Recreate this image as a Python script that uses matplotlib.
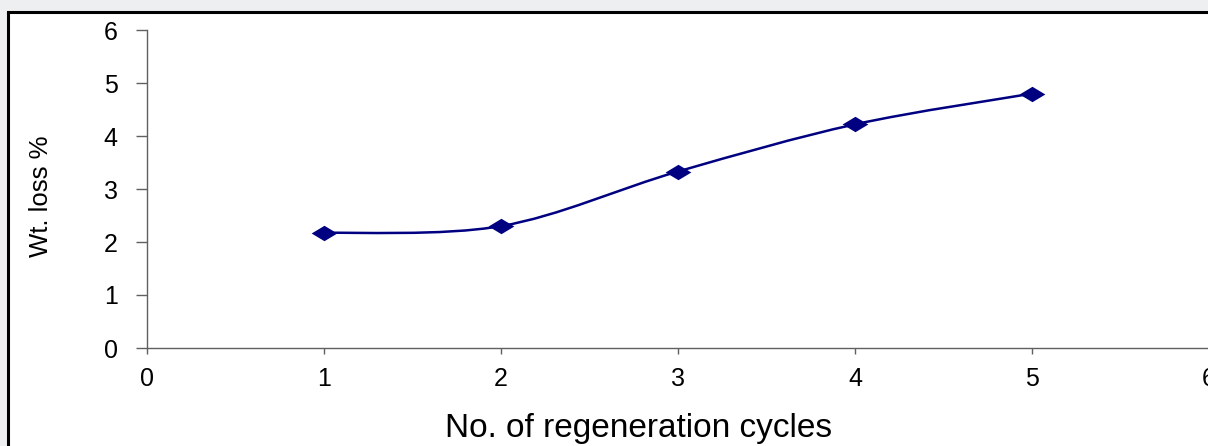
import matplotlib
matplotlib.use("Agg")
import matplotlib.pyplot as plt
from matplotlib.path import Path
from matplotlib.patches import PathPatch, Rectangle
import numpy as np

cycles = [1, 2, 3, 4, 5]
wt_loss = [2.17, 2.30, 3.33, 4.22, 4.80]
x_ticks = [0, 1, 2, 3, 4, 5, 6]
y_ticks = [0, 1, 2, 3, 4, 5, 6]
x_label = "No. of regeneration cycles"
y_label = "Wt. loss %"

plt.rcParams['font.family'] = ['Liberation Sans', 'DejaVu Sans']

W, H = 1208, 446
fig = plt.figure(figsize=(W / 100, H / 100), dpi=100)
fig.patch.set_facecolor('#eeeff1')

# white panel with black frame
panel = Rectangle((8 / W, -0.1), 1.2, 1.1 - 11.5 / H, transform=fig.transFigure,
                  facecolor='white', edgecolor='black', linewidth=2.2, zorder=-5)
fig.patches.append(panel)

ax = fig.add_axes([147 / W, (H - 348) / H, 1062 / W, 318 / H])
ax.set_zorder(2)
ax.set_facecolor('none')
ax.set_xlim(0, 6)
ax.set_ylim(0, 6)
for s in ['top', 'right']:
    ax.spines[s].set_visible(False)
for s in ['left', 'bottom']:
    ax.spines[s].set_color('#606060')
    ax.spines[s].set_linewidth(1.0)

ax.set_xticks(x_ticks)
ax.set_yticks(y_ticks)
ax.set_xticklabels([str(v) for v in x_ticks])
ax.set_yticklabels([str(v) for v in y_ticks])
ax.tick_params(axis='x', direction='out', length=4, width=1, color='#606060',
               pad=10, labelsize=18, labelcolor='black')
ax.tick_params(axis='y', direction='out', length=8, width=1, color='#606060',
               pad=13, labelsize=18, labelcolor='black')

# Excel-style smoothed line (cubic Bezier through the data points)
xs = np.array(cycles, dtype=float)
ys = np.array(wt_loss, dtype=float)
pts = np.column_stack([xs, ys])
n = len(pts)
verts = [tuple(pts[0])]
codes = [Path.MOVETO]
for i in range(n - 1):
    p_prev = pts[i - 1] if i > 0 else pts[i]
    p_next2 = pts[i + 2] if i + 2 < n else pts[i + 1]
    c1 = pts[i] + (pts[i + 1] - p_prev) / 6.0
    c2 = pts[i + 1] - (p_next2 - pts[i]) / 6.0
    verts += [tuple(c1), tuple(c2), tuple(pts[i + 1])]
    codes += [Path.CURVE4] * 3
ax.add_patch(PathPatch(Path(verts, codes), facecolor='none', edgecolor='#000080',
                       linewidth=1.8, zorder=2, clip_on=False))

diamond = Path([(-1, 0), (0, 0.6), (1, 0), (0, -0.6), (-1, 0)],
               [Path.MOVETO, Path.LINETO, Path.LINETO, Path.LINETO, Path.CLOSEPOLY])
ax.plot(cycles, wt_loss, linestyle='none', marker=diamond, markersize=18.5,
        color='#000080', markeredgewidth=0, zorder=3, clip_on=False)

fig.text(639 / W, 1 - 437 / H, x_label, ha='center', va='baseline', fontsize=24)
fig.text(41 / W, 1 - 196 / H, y_label, ha='center', va='center', fontsize=18.5,
         rotation=90)

fig.savefig('out.png', dpi=100, facecolor=fig.get_facecolor())
